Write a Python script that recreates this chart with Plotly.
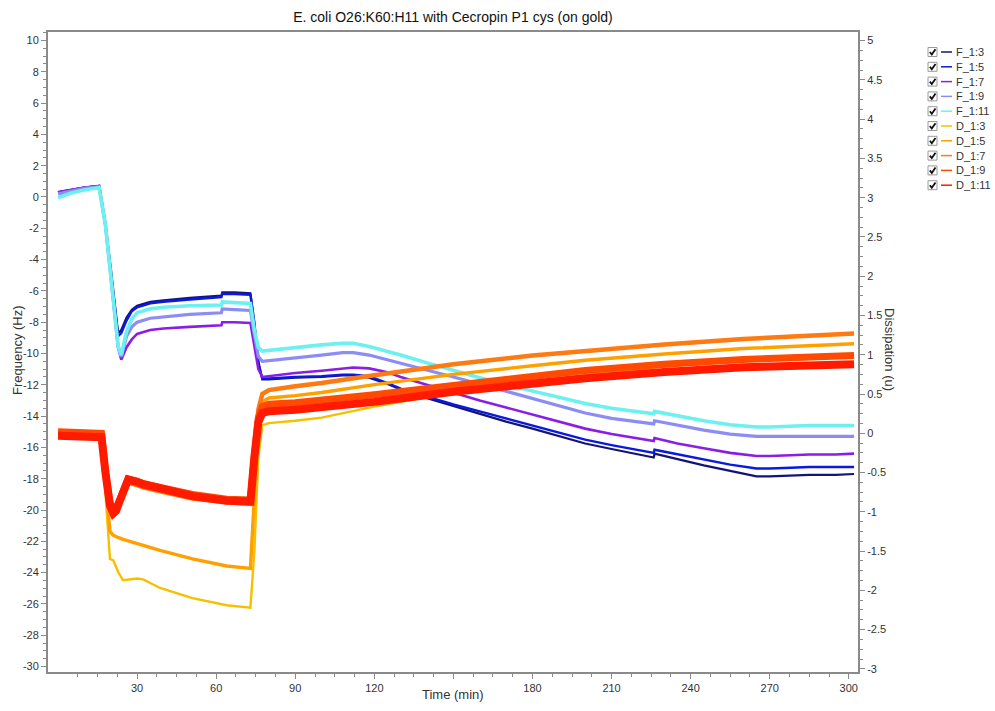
import plotly.graph_objects as go

# ---- QCM-D data: frequency (Hz) and dissipation (1e-6) shifts vs time (min) ----
t_freq = [0, 5, 10, 15.6, 18, 20, 22.8, 24, 26, 28, 30, 35, 40, 50, 62, 62.3, 67, 73,
          74.5, 76, 77.5, 80, 90, 100, 108, 112, 118, 125, 130, 140, 150, 160, 170,
          180, 190, 200, 210, 220, 226, 226.3, 235, 245, 255, 265, 270, 278, 285, 295, 302]

f_1_3 = [0.3, 0.45, 0.6, 0.7, -1.8, -4.5, -8.7, -8.5, -7.7, -7.2, -6.95, -6.7, -6.6, -6.45,
         -6.3, -6.1, -6.1, -6.15, -8.0, -10.5, -11.65, -11.65, -11.55, -11.5, -11.4, -11.4,
         -11.55, -11.95, -12.3, -12.85, -13.35, -13.85, -14.35, -14.8, -15.3, -15.75, -16.1,
         -16.45, -16.65, -16.4, -16.75, -17.15, -17.5, -17.85, -17.85, -17.8, -17.75, -17.75, -17.7]
f_1_5 = [0.3, 0.45, 0.6, 0.7, -1.8, -4.8, -8.9, -8.7, -7.9, -7.3, -7.05, -6.8, -6.7, -6.55,
         -6.4, -6.2, -6.2, -6.25, -8.2, -10.7, -11.6, -11.6, -11.5, -11.45, -11.35, -11.35,
         -11.45, -11.9, -12.25, -12.75, -13.25, -13.7, -14.15, -14.6, -15.05, -15.5, -15.85,
         -16.15, -16.35, -16.15, -16.45, -16.8, -17.1, -17.35, -17.35, -17.3, -17.25, -17.25, -17.25]
f_1_7 = [0.3, 0.45, 0.6, 0.7, -1.8, -5.0, -9.6, -10.4, -9.6, -9.1, -8.75, -8.5, -8.4, -8.3,
         -8.2, -8.0, -8.0, -8.05, -9.5, -11.0, -11.5, -11.45, -11.25, -11.1, -10.95, -10.9,
         -10.95, -11.2, -11.5, -12.0, -12.5, -13.0, -13.45, -13.9, -14.35, -14.8, -15.15,
         -15.45, -15.6, -15.4, -15.75, -16.05, -16.35, -16.55, -16.55, -16.5, -16.45, -16.45, -16.4]
f_1_9 = [0.2, 0.4, 0.55, 0.65, -1.8, -5.0, -9.6, -10.2, -8.9, -8.3, -8.0, -7.75, -7.65, -7.5,
         -7.4, -7.15, -7.2, -7.25, -8.8, -10.2, -10.5, -10.45, -10.3, -10.1, -9.95, -9.95,
         -10.1, -10.4, -10.6, -11.05, -11.5, -11.95, -12.4, -12.85, -13.3, -13.8, -14.15,
         -14.35, -14.5, -14.3, -14.6, -14.9, -15.15, -15.3, -15.3, -15.3, -15.3, -15.3, -15.3]
f_1_11 = [-0.05, 0.25, 0.45, 0.6, -1.8, -5.0, -9.5, -10.1, -8.6, -7.8, -7.4, -7.15, -7.05, -6.95,
          -6.9, -6.7, -6.75, -6.8, -8.5, -9.6, -9.85, -9.8, -9.6, -9.45, -9.35, -9.35,
          -9.55, -9.85, -10.1, -10.6, -11.1, -11.55, -12.0, -12.4, -12.8, -13.2, -13.5,
          -13.75, -13.85, -13.7, -14.0, -14.3, -14.55, -14.7, -14.7, -14.65, -14.6, -14.6, -14.6]

t_diss = [0, 8, 16.5, 18, 19.7, 21, 22, 23, 24.7, 26.6, 30, 32.3, 38.7, 51, 64, 73, 74.5, 76,
          77.5, 80, 90, 100, 120, 150, 180, 200, 230, 260, 302]

d_1_3 = [0.0, 0.0, -0.02, -0.8, -1.6, -1.62, -1.7, -1.78, -1.87, -1.86, -1.85, -1.86, -1.97,
         -2.1, -2.19, -2.22, -1.5, -0.3, 0.1, 0.13, 0.16, 0.2, 0.34, 0.52, 0.66, 0.74, 0.85, 0.93, 1.0]
d_1_5 = [0.0, 0.0, -0.02, -0.6, -1.25, -1.3, -1.31, -1.33, -1.35, -1.37, -1.4, -1.42, -1.49,
         -1.6, -1.69, -1.72, -0.8, 0.1, 0.4, 0.45, 0.48, 0.52, 0.62, 0.75, 0.86, 0.93, 1.01, 1.08, 1.14]
d_1_7 = [0.0, 0.0, -0.02, -0.5, -0.92, -1.02, -1.0, -0.93, -0.77, -0.63, -0.66, -0.69, -0.74,
         -0.83, -0.88, -0.9, -0.3, 0.3, 0.5, 0.55, 0.6, 0.64, 0.74, 0.88, 0.99, 1.05, 1.13, 1.2, 1.27]
d_1_9 = [0.02, 0.02, 0.0, -0.5, -0.88, -0.98, -0.96, -0.88, -0.72, -0.58, -0.61, -0.64, -0.69,
         -0.78, -0.84, -0.85, -0.3, 0.2, 0.34, 0.37, 0.39, 0.42, 0.49, 0.61, 0.73, 0.8, 0.88, 0.94, 0.99]
d_1_11 = [-0.03, -0.03, -0.05, -0.5, -0.92, -1.02, -0.99, -0.9, -0.74, -0.59, -0.62, -0.65, -0.7,
          -0.8, -0.86, -0.87, -0.3, 0.14, 0.26, 0.28, 0.3, 0.33, 0.4, 0.53, 0.64, 0.7, 0.78, 0.84, 0.88]

series_names = ["F_1:3", "F_1:5", "F_1:7", "F_1:9", "F_1:11",
                "D_1:3", "D_1:5", "D_1:7", "D_1:9", "D_1:11"]
series_colors = ["#141478", "#0a18e0", "#8a1ee6", "#8c8cf5", "#6cf0f0",
                 "#f5c000", "#ffa000", "#ff7a10", "#ff4a00", "#ff1a00"]
series_widths = [2.2, 2.4, 2.6, 3.2, 3.6, 2.4, 3.4, 4.5, 7, 8]

time_ticks = [30, 60, 90, 120, 150, 180, 210, 240, 270, 300]
# the 150 label sits under the axis title, so it is left blank
time_labels = ["30", "60", "90", "120", "", "180", "210", "240", "270", "300"]
freq_ticks = list(range(-30, 11, 2))
diss_ticks = [v / 2 for v in range(-6, 11)]

freq_series = [f_1_3, f_1_5, f_1_7, f_1_9, f_1_11]
diss_series = [d_1_3, d_1_5, d_1_7, d_1_9, d_1_11]

FONT = "Liberation Sans, Arial, sans-serif"
AXIS_GREY = "#8a8a8a"
TEXT = "#333333"

fig = go.Figure()
for i, ys in enumerate(freq_series):
    fig.add_trace(go.Scatter(x=t_freq, y=ys, mode="lines", name=series_names[i],
                             line=dict(color=series_colors[i], width=series_widths[i]),
                             yaxis="y"))
for j, ys in enumerate(diss_series):
    i = j + 5
    fig.add_trace(go.Scatter(x=t_diss, y=ys, mode="lines", name=series_names[i],
                             line=dict(color=series_colors[i], width=series_widths[i]),
                             yaxis="y2"))

# plot area in pixels: x 48..858, y 32..672
L, R, T, B = 48, 858, 32, 672
W, H = R - L, B - T


def px(xp):
    return (xp - L) / W


def py(yp):
    return (B - yp) / H


def fmt(v):
    return "%g" % v


axis_common = dict(showgrid=False, zeroline=False, showline=True, linecolor=AXIS_GREY,
                   linewidth=2, ticks="outside", tickcolor=AXIS_GREY, ticklen=5,
                   tickwidth=1, tickfont=dict(family=FONT, size=11, color=TEXT))

fig.update_layout(
    width=995, height=711,
    margin=dict(l=L, r=995 - R, t=T, b=711 - B),
    paper_bgcolor="white", plot_bgcolor="white",
    showlegend=False,
    title=dict(text="E. coli O26:K60:H11 with Cecropin P1 cys (on gold)",
               x=0.5, xref="paper", xanchor="center",
               y=1 - 17 / 711, yanchor="middle",
               font=dict(family=FONT, size=14, color="#111111")),
    xaxis=dict(range=[-3.8, 303.5], tickmode="array", tickvals=time_ticks,
               ticktext=time_labels, mirror=True,
               minor=dict(tickmode="array",
                          tickvals=[7.5 * k for k in range(1, 41) if k % 4 != 0],
                          ticks="outside", ticklen=3, tickcolor=AXIS_GREY),
               **axis_common),
    yaxis=dict(range=[-30.35, 10.54], tickmode="array", tickvals=freq_ticks,
               ticktext=[fmt(v) for v in freq_ticks], mirror=True,
               minor=dict(tickmode="array",
                          tickvals=[-30 + 0.5 * k for k in range(0, 82) if k % 4 != 0],
                          ticks="outside", ticklen=3, tickcolor=AXIS_GREY),
               **axis_common),
    yaxis2=dict(range=[-3.04, 5.11], overlaying="y", side="right", tickmode="array",
                tickvals=diss_ticks, ticktext=[fmt(v) for v in diss_ticks],
                minor=dict(tickmode="array",
                           tickvals=[-3 + 0.125 * k for k in range(0, 65) if k % 4 != 0],
                           ticks="outside", ticklen=3, tickcolor=AXIS_GREY),
                **axis_common),
)

# axis titles
fig.add_annotation(text="Frequency (Hz)", x=px(17), y=py(350), xref="paper", yref="paper",
                   textangle=-90, showarrow=False, xanchor="center", yanchor="middle",
                   font=dict(family=FONT, size=13, color=TEXT))
fig.add_annotation(text="Dissipation (u)", x=px(890), y=py(350), xref="paper", yref="paper",
                   textangle=90, showarrow=False, xanchor="center", yanchor="middle",
                   font=dict(family=FONT, size=13, color=TEXT))
fig.add_annotation(text="Time (min)", x=0.5, y=py(694), xref="paper", yref="paper",
                   showarrow=False, xanchor="center", yanchor="middle",
                   font=dict(family=FONT, size=13, color=TEXT))

# legend with check boxes
for i, (name, color) in enumerate(zip(series_names, series_colors)):
    yc = 52 + i * 14.8
    fig.add_shape(type="rect", xref="paper", yref="paper",
                  x0=px(928), x1=px(937), y0=py(yc + 4.5), y1=py(yc - 4.5),
                  line=dict(color="#9a9a9a", width=1), fillcolor="white")
    fig.add_shape(type="path", xref="paper", yref="paper",
                  path="M %f,%f L %f,%f L %f,%f" % (px(929.8), py(yc), px(931.8), py(yc + 2.5),
                                                     px(935.5), py(yc - 2.8)),
                  line=dict(color="#111111", width=1.8))
    fig.add_shape(type="line", xref="paper", yref="paper",
                  x0=px(941), x1=px(952), y0=py(yc), y1=py(yc),
                  line=dict(color=color, width=1.5))
    fig.add_annotation(text=name, x=px(954), y=py(yc), xref="paper", yref="paper",
                       showarrow=False, xanchor="left", yanchor="middle",
                       font=dict(family=FONT, size=11, color=TEXT))

fig.write_html("out.html")
